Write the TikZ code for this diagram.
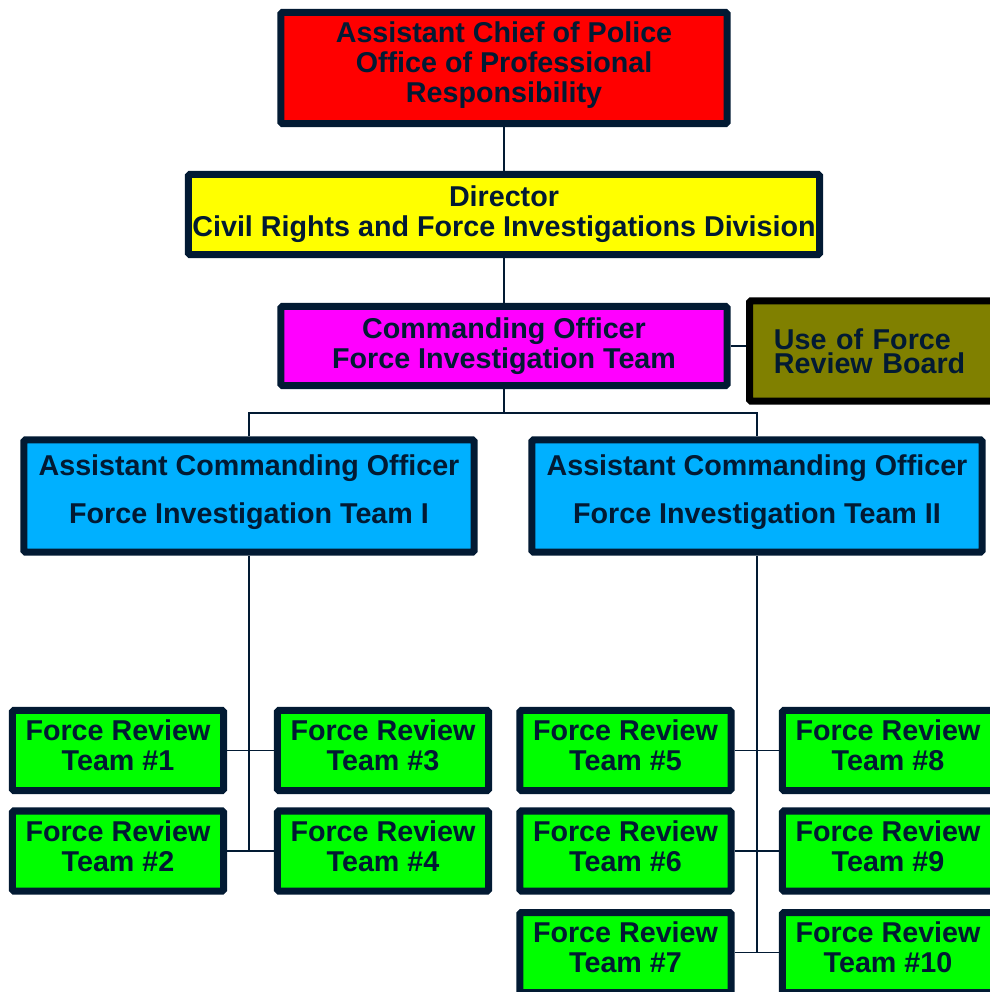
\documentclass[tikz,border=0pt]{standalone}
\usepackage{fontspec}
\setmainfont{Liberation Sans}
\definecolor{chartnavy}{HTML}{021A33}
\definecolor{chiefred}{HTML}{FF0000}
\definecolor{directoryellow}{HTML}{FFFF00}
\definecolor{commandmagenta}{HTML}{FF00FF}
\definecolor{boardolive}{HTML}{808000}
\definecolor{acoblue}{HTML}{00B0FF}
\definecolor{teamgreen}{HTML}{00FF00}

\begin{document}
\begin{tikzpicture}[x=0.025cm, y=-0.025cm,
    box/.style={draw=chartnavy, line width=0.175cm, rounded corners=1pt,
        inner xsep=0pt, inner ysep=0pt, align=center, text=chartnavy,
        font={\fontsize{20.4}{21.3}\selectfont\bfseries}},
    acobox/.style={box, fill=acoblue, minimum width=11.25cm, minimum height=2.8cm,
        text depth=0.35cm, font={\fontsize{20.4}{34}\selectfont\bfseries}},
    teambox/.style={box, fill=teamgreen, minimum width=5.275cm, minimum height=2cm,
        text depth=0.25cm},
    conn/.style={draw=chartnavy, line width=1.2pt}]

    % Page frame
    \useasboundingbox (0,0) rectangle (990,992);
    \clip (0,0) rectangle (990,992);

    % Top of the chain
    \node[box, fill=chiefred, minimum width=11.15cm, minimum height=2.775cm,
        text depth=0.3cm] (chief) at (504,68)
        {Assistant Chief of Police\\Office of Professional\\Responsibility};
    \node[box, fill=directoryellow, minimum width=15.775cm, minimum height=2cm] (director) at (504,214.5)
        {Director\\Civil Rights and Force Investigations Division};
    \node[box, fill=commandmagenta, minimum width=11.15cm, minimum height=1.975cm] (commander) at (504,346)
        {Commanding Officer\\Force Investigation Team};

    % Review board, runs off the page
    \node[box, draw=black, fill=boardolive, anchor=west, align=left, text width=6cm,
        inner xsep=0.61cm, minimum height=2.5cm,
        font={\fontsize{20.4}{17}\selectfont\bfseries}] (board) at (746,351)
        {Use of Force\\Review Board};

    % Assistant commanding officers
    \node[acobox] (acoOne) at (249,496) {Assistant Commanding Officer\\Force Investigation Team I};
    \node[acobox] (acoTwo) at (757,496) {Assistant Commanding Officer\\Force Investigation Team II};

    % Force review teams
    \foreach \n/\x/\y in {1/118/750.5, 2/118/851, 3/383/750.5, 4/383/851,
                          5/625.5/750.5, 6/625.5/851, 7/625.5/952.5,
                          8/888/750.5, 9/888/851, 10/888/952.5} {
        \node[teambox] (team\n) at (\x,\y) {Force Review\\Team \#\n};
    }

    % Connectors
    \draw[conn] (chief.south) -- (director.north);
    \draw[conn] (director.south) -- (commander.north);
    \draw[conn] (commander.east) -- (board.west |- commander.east);
    \coordinate (split) at (504,413);
    \draw[conn] (commander.south) -- (split);
    \draw[conn] (acoOne.north) |- (split) -| (acoTwo.north);

    \draw[conn] (acoOne.south) -- (acoOne.south |- team2.east);
    \draw[conn] (acoTwo.south) -- (acoTwo.south |- team7.east);
    \foreach \a/\b in {1/3, 2/4, 5/8, 6/9, 7/10} {
        \draw[conn] (team\a.east) -- (team\b.west);
    }
\end{tikzpicture}
\end{document}
